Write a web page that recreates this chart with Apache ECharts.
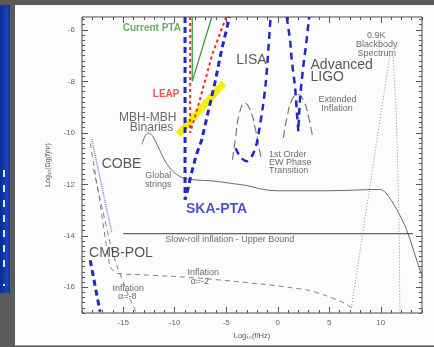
<!DOCTYPE html>
<html>
<head>
<meta charset="utf-8">
<script src="https://cdn.jsdelivr.net/npm/echarts@6/dist/echarts.min.js"></script>
<style>
  html, body { margin: 0; padding: 0; background: #5b5b5b; }
  #stage { position: relative; width: 434px; height: 347px; overflow: hidden; }
  .panel { position: absolute; left: 0; top: 5px; width: 10px; height: 288px;
           background: linear-gradient(90deg, #0a2c94 0%, #1744b6 70%, #0f35a0 100%); }
  .tick { position: absolute; left: 2.5px; width: 2px; height: 7px; background: #dfe7ff; }
  .sheet { position: absolute; left: 15px; top: 5px; width: 419px; height: 340px; background: #fcfcfc;
           border-bottom: 1px solid #a0a0a0; }
  #c { position: absolute; left: 0; top: 0; width: 434px; height: 347px; }
</style>
</head>
<body>
<div id="stage">
  <div class="panel"></div>
  <div class="tick" style="top:170px"></div>
  <div class="tick" style="top:185px"></div>
  <div class="tick" style="top:200px"></div>
  <div class="tick" style="top:215px"></div>
  <div class="tick" style="top:230px"></div>
  <div class="tick" style="top:245px"></div>
  <div class="tick" style="top:260px"></div>
  <div class="tick" style="top:284px;height:2px"></div>
  <div class="sheet"></div>
  <div id="c"></div>
</div>
<script>
// Gravitational-wave background: log10 frequency vs log10 energy density
const xTickLabels = [-15, -10, -5, 0, 5, 10];
const yTickLabels = [-16, -14, -12, -10, -8, -6];

// detector sensitivity curves [log10 f, log10 Omega h^2]
const skaPta = [[-9.0, -5.5], [-9.0, -12.6], [-8.95, -12.65], [-8.7, -12.15], [-8.4, -11.6], [-7.9, -10.85],
                [-7.4, -10.3], [-6.7, -9.1], [-6.07, -8.0], [-5.42, -6.72], [-4.94, -5.94], [-4.7, -5.5]];
const leap = [[-8.5, -5.5], [-8.5, -10.0], [-8.45, -10.0], [-8.05, -9.4], [-7.55, -8.7], [-7.0, -7.9],
              [-6.4, -7.0], [-5.75, -6.3], [-5.0, -5.5]];
const currentPta = [[-8.3, -5.5], [-8.3, -8.0], [-6.4, -5.5]];
const lisa = [[-4.1, -10.6], [-3.6, -10.95], [-3.0, -11.1], [-2.5, -10.9], [-2.1, -10.5], [-1.85, -10.0],
              [-1.45, -9.0], [-1.15, -8.0], [-0.9, -6.7], [-0.7, -5.5]];
const ligo = [[0.87, -5.5], [1.2, -6.4], [1.36, -7.2], [1.68, -8.2], [1.84, -9.1], [2.0, -9.95],
              [2.08, -9.2], [2.2, -8.45], [2.48, -7.4], [2.8, -6.4], [3.05, -5.5]];
const cmbPol = [[-18.2, -14.95], [-17.25, -16.95]];
const cobe = [[-18.05, -10.25], [-16.1, -13.9]];

// predicted sources
const mbhBinaries = [[-9.65, -10.07], [-5.25, -8.07]];
const ewArcLow = [[-4.4, -11.05], [-4.1, -10.2], [-3.75, -9.3], [-3.2, -8.85], [-2.7, -9.1],
                  [-2.2, -9.8], [-1.85, -10.5], [-1.6, -11.0]];
const ewArcHigh = [[0.55, -10.2], [0.9, -9.4], [1.4, -8.7], [1.95, -8.5], [2.5, -8.75],
                   [3.0, -9.4], [3.4, -10.2]];
const globalStrings = [[-13.2, -10.45], [-12.9, -10.15], [-12.55, -10.0], [-12.1, -10.15], [-11.6, -10.55],
                       [-11.0, -11.05], [-10.4, -11.4], [-9.7, -11.65], [-9.0, -11.78], [-8.0, -11.83],
                       [-6.0, -11.88], [-4.6, -11.96], [-3.0, -12.05], [-1.4, -12.2], [-0.1, -12.25],
                       [5.0, -12.25], [9.9, -12.2], [10.5, -12.33], [11.55, -12.98], [12.5, -13.76],
                       [13.9, -15.45], [14.1, -15.6]];
const slowRollBound = [[-15.0, -13.92], [13.1, -13.92]];
const inflationA2 = [[-18.2, -10.4], [-17.3, -12.6], [-16.3, -15.15], [-15.7, -15.45], [-13.0, -15.52],
                     [-10.0, -15.58], [-7.5, -15.65], [-4.0, -15.78], [-1.0, -15.9], [1.0, -16.0],
                     [3.0, -16.12], [4.5, -16.3], [5.8, -16.5], [6.6, -16.65], [7.2, -16.8]];
const inflationA8 = [[-17.9, -11.4], [-17.0, -13.0], [-16.2, -14.4], [-15.5, -15.3], [-15.0, -15.8],
                     [-14.4, -16.4], [-13.7, -17.0]];
const blackbody = [[7.15, -16.8], [10.84, -7.08], [11.0, -7.0], [11.2, -7.05], [11.5, -9.1],
                   [11.8, -14.0], [11.85, -17.0]];

// annotations anchored in data space [text, log10 f, log10 Omega h^2]
const bigNotes = [['LISA', -2.55, -7.17], ['COBE', -15.16, -11.22], ['CMB-POL', -15.22, -14.69]];
const bigLeftNotes = [['Advanced', 3.18, -7.36], ['LIGO', 3.18, -7.82]];
const mediumNotes = [['MBH-MBH', -12.62, -9.43], ['Binaries', -12.25, -9.8]];
const smallNotes = [['Global', -11.6, -11.66], ['strings', -11.6, -12.0],
                    ['Extended', 5.8, -8.7], ['Inflation', 5.75, -9.04],
                    ['0.9K', 9.55, -6.2], ['Blackbody', 9.6, -6.56], ['Spectrum', 9.6, -6.91],
                    ['Slow-roll inflation - Upper Bound', -4.65, -14.16],
                    ['Inflation', -7.24, -15.43], ['α=-2', -7.56, -15.78],
                    ['Inflation', -14.51, -16.04], ['α=-8', -14.6, -16.37]];
const smallLeftNotes = [['1st Order', -0.84, -10.83], ['EW Phase', -0.84, -11.16], ['Transition', -0.84, -11.48]];
const ptaNote = [['Current PTA', -12.22, -5.94]];
const leapNote = [['LEAP', -10.83, -8.49]];
const skaNote = [['SKA-PTA', -5.94, -12.97]];

const FONT = '"Liberation Sans", Arial, sans-serif';
const xMinor = [];
for (let v = -19; v <= 14; v++) xMinor.push(v);
const yMinor = [];
for (let k = 0; k <= 57; k++) yMinor.push(Math.round((-17 + k * 0.2) * 10) / 10);

function axis(pos, range, ticks, len, labels) {
  return {
    type: 'value', position: pos, min: range[0], max: range[1],
    splitLine: { show: false }, axisLine: { show: false, onZero: false },
    axisTick: { show: true, inside: true, length: len, customValues: ticks,
                lineStyle: { color: '#555', width: 1 } },
    axisLabel: labels ? { customValues: ticks, fontSize: 8, color: '#666', fontFamily: FONT, margin: 6 }
                      : { show: false }
  };
}
function line(data, color, width, type, extra) {
  return Object.assign({
    type: 'line', data: data, symbol: 'none', silent: true, clip: true,
    lineStyle: { color: color, width: width, type: type, cap: 'butt' }, z: 3
  }, extra || {});
}
function notes(list, style) {
  return {
    type: 'scatter', silent: true, symbolSize: 1, itemStyle: { color: 'rgba(0,0,0,0)' }, z: 6,
    data: list.map(([t, x, y]) => ({ name: t, value: [x, y] })),
    label: Object.assign({ show: true, position: 'inside', formatter: '{b}', fontFamily: FONT,
                           verticalAlign: 'middle' }, style)
  };
}

const xRange = [-19, 14], yRange = [-17, -5.5];
const xAxes = [axis('bottom', xRange, xTickLabels, 6, true), axis('bottom', xRange, xMinor, 3, false),
               axis('top', xRange, xTickLabels, 6, false), axis('top', xRange, xMinor, 3, false)];
Object.assign(xAxes[0], { name: 'Log₁₀(f/Hz)', nameLocation: 'middle', nameGap: 14,
                          nameTextStyle: { fontSize: 7.5, color: '#555', fontFamily: FONT } });
const yAxes = [axis('left', yRange, yTickLabels, 6, true), axis('left', yRange, yMinor, 3, false),
               axis('right', yRange, yTickLabels, 6, false), axis('right', yRange, yMinor, 3, false)];
Object.assign(yAxes[0], { name: 'Log₁₀(Ωg(f)h²)', nameLocation: 'middle', nameGap: 30,
                          nameTextStyle: { fontSize: 7, color: '#555', fontFamily: FONT } });
yAxes[0].axisLabel.margin = 7;

const blue = '#2727c6';
const option = {
  animation: false,
  grid: { left: 82, top: 17, width: 340, height: 296, show: true,
          borderColor: '#4a4a4a', borderWidth: 1, backgroundColor: 'transparent' },
  xAxis: xAxes,
  yAxis: yAxes,
  series: [
    line(mbhBinaries, '#f4ee10', 7, 'solid', { z: 2 }),
    line(globalStrings, '#6a6a6a', 1, 'solid', { smooth: 0.3 }),
    line(slowRollBound, '#3a3a3a', 1, 'solid'),
    line(inflationA2, '#808080', 1, [5, 4], { smooth: 0.2 }),
    line(inflationA8, '#808080', 1, [5, 4], { smooth: 0.2 }),
    line(blackbody, '#8a8a8a', 1, [1, 2]),
    line(ewArcLow, '#7a7a7a', 1.2, [8, 4], { smooth: true }),
    line(ewArcHigh, '#7a7a7a', 1.2, [8, 4], { smooth: true }),
    line(cobe, '#8080d0', 1.5, [1, 1]),
    line(currentPta, '#3f9a3f', 1.3, 'solid'),
    line(leap, '#e82a2a', 2, [3, 3]),
    line(skaPta, blue, 3, [6, 4]),
    line(lisa, blue, 2.5, [7, 5], { smooth: 0.3 }),
    line(ligo, blue, 2.5, [7, 5]),
    line(cmbPol, blue, 3, [6, 4]),
    notes(bigNotes, { fontSize: 14, color: '#2e2e2e' }),
    notes(bigLeftNotes, { fontSize: 14, color: '#2e2e2e', align: 'left' }),
    notes(mediumNotes, { fontSize: 12, color: '#444', lineHeight: 10 }),
    notes(smallNotes, { fontSize: 9, color: '#4a4a4a' }),
    notes(smallLeftNotes, { fontSize: 9, color: '#4a4a4a', align: 'left' }),
    notes(ptaNote, { fontSize: 10, fontWeight: 'bold', color: '#3f9a3f' }),
    notes(leapNote, { fontSize: 10, fontWeight: 'bold', color: '#e82a2a' }),
    notes(skaNote, { fontSize: 14, fontWeight: 'bold', color: blue })
  ]
};
echarts.init(document.getElementById('c'), null, { renderer: 'canvas' }).setOption(option);
</script>
</body>
</html>
